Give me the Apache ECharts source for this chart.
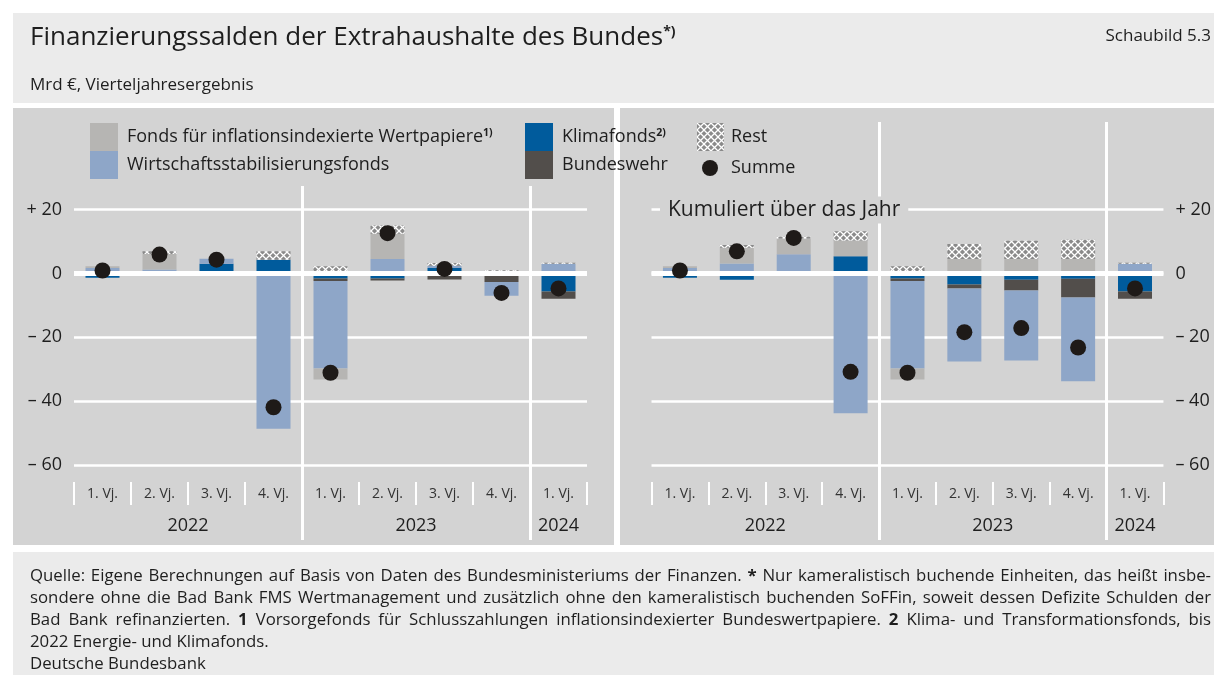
<!DOCTYPE html>
<html>
<head>
<meta charset="utf-8">
<script src="https://cdn.jsdelivr.net/npm/echarts@6/dist/echarts.min.js"></script>
<style>
  html, body { margin: 0; padding: 0; background: #fff; }
  #chart { width: 1214px; height: 675px; }
</style>
</head>
<body>
<div id="chart"></div>
<script>
// ---- Data (Mrd €) ----
const quarters = ['1. Vj.', '2. Vj.', '3. Vj.', '4. Vj.', '1. Vj.', '2. Vj.', '3. Vj.', '4. Vj.', '1. Vj.'];
const years = ['2022', '2023', '2024'];
const yearCenters = [2, 6, 8.5];   // middle of each year on the 0..9 quarter scale
const yearBreaks = [4, 8];         // boundaries between years
const quarterBounds = [0, 1, 2, 3, 4, 5, 6, 7, 8, 9];
const yTicks = [20, 0, -20, -40, -60];
const yTickLabels = ['+ 20', '0', '– 20', '– 40', '– 60'];

// Vierteljahresergebnis
const klimaQ      = [-1.4, -0.7, 3.0, 4.3, -1.6, -1.6, 1.7, 0.4, -5.7];
const bundeswehrQ = [0, 0, 0, 0, -0.8, -0.6, -1.9, -2.7, -2.2];
const wsfQ        = [1.7, 1.2, 1.6, -48.6, -27.4, 4.5, 0.7, -4.3, 3.0];
const fondsQ      = [0.55, 4.9, 0, 0, -3.4, 7.9, 0, 0.2, 0];
const restQ       = [0, 0.85, 0, 2.6, 2.2, 2.6, 0.85, 0.4, 0.3];
const summeQ      = [0.9, 5.9, 4.3, -41.9, -31.1, 12.6, 1.4, -6.1, -4.7];

// Kumuliert über das Jahr
const klimaK      = [-1.4, -2.0, 0.4, 5.4, -1.6, -3.5, -2.0, -1.7, -5.7];
const bundeswehrK = [0, 0, 0, 0, -0.8, -1.25, -3.35, -5.85, -2.2];
const wsfK        = [1.7, 3.1, 5.6, -43.75, -27.4, -22.8, -21.9, -26.2, 3.0];
const fondsK      = [0.55, 4.9, 4.9, 4.9, -3.4, 4.5, 4.5, 4.5, 0];
const restK       = [0, 0.85, 0.6, 2.9, 2.2, 4.7, 5.7, 6.0, 0.3];
const summeK      = [0.9, 6.9, 11.1, -30.8, -31.1, -18.4, -17.1, -23.2, -4.7];

// ---- Names & styling ----
const N_FONDS = 'Fonds für inflationsindexierte Wertpapiere';
const N_WSF = 'Wirtschaftsstabilisierungsfonds';
const N_KLIMA = 'Klimafonds';
const N_BW = 'Bundeswehr';
const N_REST = 'Rest';
const N_SUM = 'Summe';

const FONT = '"Open Sans", "Noto Sans", sans-serif';
const TXT = '#1e1e1e';
const PANEL = '#d3d3d3';
const LIGHT = '#ebebeb';
const C_FONDS = '#b6b5b3';
const C_WSF = '#8ea6c8';
const C_KLIMA = '#005b9c';
const C_BW = '#524e4b';
const C_DOT = '#1e1a18';

function hatchPattern() {
  const c = document.createElement('canvas');
  c.width = 7; c.height = 7;
  const g = c.getContext('2d');
  g.fillStyle = '#8a8a8a';
  g.fillRect(0, 0, 7, 7);
  g.strokeStyle = '#ffffff';
  g.lineWidth = 1.3;
  g.beginPath();
  g.moveTo(0, 0); g.lineTo(7, 7);
  g.moveTo(7, 0); g.lineTo(0, 7);
  g.stroke();
  return { image: c, repeat: 'repeat' };
}
const C_REST = hatchPattern();

// ---- Layout ----
const GRID_TOP = 209.5, GRID_H = 255.6, GRID_W = 513;
const GRID_LEFT = [74, 651.5];
const AXIS_BOTTOM = GRID_TOP + GRID_H;
const SEP_BOTTOM = 540;
const SEP_TOP = [186, 122];
const TICK_OFFSET = 17;

const chart = echarts.init(document.getElementById('chart'));

function yAxis(idx) {
  return {
    type: 'value', gridIndex: idx, min: -60, max: 20, interval: 20,
    position: idx === 0 ? 'left' : 'right',
    axisLine: { show: false }, axisTick: { show: false },
    splitLine: { lineStyle: { color: '#fff', width: 2.5 } },
    axisLabel: {
      margin: 12, fontSize: 18, color: TXT, fontFamily: FONT,
      formatter: v => yTickLabels[yTicks.indexOf(v)]
    }
  };
}

// quarter names under each bar
function quarterAxis(idx) {
  return {
    type: 'category', gridIndex: idx, data: quarters, position: 'bottom',
    offset: TICK_OFFSET,
    axisLine: { show: false },
    axisTick: { show: false },
    axisLabel: { margin: 5, fontSize: 14, color: '#333', fontFamily: FONT, interval: 0 },
    splitLine: { show: false }
  };
}

// short white dividers between the quarter names
function quarterTickAxis(idx) {
  return {
    type: 'value', gridIndex: idx, min: 0, max: quarters.length, position: 'bottom',
    offset: TICK_OFFSET,
    axisLine: { show: false },
    splitLine: { show: false },
    axisLabel: { show: false },
    axisTick: {
      show: true, customValues: quarterBounds, length: 23,
      lineStyle: { color: '#fff', width: 2 }
    }
  };
}

// year names and long year dividers
function yearAxis(idx) {
  return {
    type: 'value', gridIndex: idx, min: 0, max: quarters.length, position: 'bottom',
    offset: SEP_BOTTOM - AXIS_BOTTOM,
    axisLine: { show: false },
    splitLine: { show: false },
    axisTick: {
      show: true, inside: true, customValues: yearBreaks,
      length: SEP_BOTTOM - SEP_TOP[idx],
      lineStyle: { color: '#fff', width: 3 }
    },
    axisLabel: {
      show: true, inside: true, customValues: yearCenters, margin: 5,
      fontSize: 18, color: TXT, fontFamily: FONT,
      formatter: v => years[yearCenters.indexOf(v)]
    }
  };
}

function bars(idx, vals) {
  const spec = [
    [N_KLIMA, vals.klima, C_KLIMA],
    [N_BW, vals.bw, C_BW],
    [N_WSF, vals.wsf, C_WSF],
    [N_FONDS, vals.fonds, C_FONDS],
    [N_REST, vals.rest, C_REST]
  ];
  const list = spec.map(([name, data, color]) => ({
    type: 'bar', name, data,
    xAxisIndex: idx * 3, yAxisIndex: idx,
    stack: 'panel' + idx, barWidth: 34,
    itemStyle: { color },
    emphasis: { disabled: true },
    silent: true
  }));
  // zero line drawn above the bars
  list[list.length - 1].markLine = {
    silent: true, symbol: 'none', z: 5,
    label: { show: false },
    lineStyle: { color: '#fff', width: 5, type: 'solid' },
    data: [{ yAxis: 0 }]
  };
  list.push({
    type: 'scatter', name: N_SUM, data: vals.sum,
    xAxisIndex: idx * 3, yAxisIndex: idx,
    symbol: 'circle', symbolSize: 16, z: 10,
    itemStyle: { color: C_DOT, opacity: 1 },
    emphasis: { disabled: true }, silent: true
  });
  return list;
}

// ---- Footnote with justified lines ----
const footLines = [
  'Quelle: Eigene Berechnungen auf Basis von Daten des Bundesministeriums der Finanzen. §* Nur kameralistisch buchende Einheiten, das heißt insbe-',
  'sondere ohne die Bad Bank FMS Wertmanagement und zusätzlich ohne den kameralistisch buchenden SoFFin, soweit dessen Defizite Schulden der',
  'Bad Bank refinanzierten. §1 Vorsorgefonds für Schlusszahlungen inflationsindexierter Bundeswertpapiere. §2 Klima- und Transformationsfonds, bis',
  '2022 Energie- und Klimafonds.'
];
const FOOT_SIZE = 16.8;
const FOOT_X0 = 30, FOOT_X1 = 1211;
const footY = [576, 598, 620, 642];

function footElements() {
  const ctx = document.createElement('canvas').getContext('2d');
  const els = [];
  footLines.forEach((line, li) => {
    const words = line.split(' ').map(w => {
      const bold = w.startsWith('§');
      const t = bold ? w.slice(1) : w;
      ctx.font = (bold ? 'bold ' : '') + FOOT_SIZE + 'px "Open Sans"';
      return { t, bold, w: ctx.measureText(t).width };
    });
    ctx.font = FOOT_SIZE + 'px "Open Sans"';
    const space = ctx.measureText(' ').width;
    const total = words.reduce((s, w) => s + w.w, 0);
    const justify = li < footLines.length - 1;
    const gap = justify ? (FOOT_X1 - FOOT_X0 - total) / (words.length - 1) : space;
    let x = FOOT_X0;
    words.forEach(w => {
      els.push({
        type: 'text', x, y: footY[li], silent: true,
        style: {
          text: w.t, fontSize: FOOT_SIZE, fontFamily: 'Open Sans',
          fontWeight: w.bold ? 'bold' : 'normal', fill: TXT, verticalAlign: 'middle'
        }
      });
      x += w.w + gap;
    });
  });
  return els;
}

const legendText = {
  fontSize: 18, color: TXT, fontFamily: FONT,
  rich: { sup: { fontSize: 10.5, fontWeight: 'bold', verticalAlign: 'top', color: TXT, fontFamily: FONT } }
};
const legendFmt = n => n === N_FONDS ? n + '{sup|1)}' : (n === N_KLIMA ? n + '{sup|2)}' : n);
function legend(left, top, names, w, h, pad) {
  return {
    left, top, orient: 'vertical', itemGap: 0, padding: 0,
    itemWidth: w, itemHeight: h, selectedMode: false, icon: names[0] === N_SUM ? 'circle' : 'rect',
    data: names, formatter: legendFmt,
    textStyle: Object.assign({ padding: [0, 0, 0, pad] }, legendText)
  };
}

const option = {
  backgroundColor: '#fff',
  animation: false,
  grid: GRID_LEFT.map(l => ({ left: l, top: GRID_TOP, width: GRID_W, height: GRID_H, containLabel: false })),
  xAxis: [quarterAxis(0), yearAxis(0), quarterTickAxis(0), quarterAxis(1), yearAxis(1), quarterTickAxis(1)],
  yAxis: [yAxis(0), yAxis(1)],
  legend: [
    legend(90, 123, [N_FONDS, N_WSF], 28, 28, 4),
    legend(525, 123, [N_KLIMA, N_BW], 28, 28, 4),
    legend(697, 123, [N_REST], 27, 28, 2),
    legend(702, 159, [N_SUM], 16, 16, 8)
  ],
  series: [
    ...bars(0, { klima: klimaQ, bw: bundeswehrQ, wsf: wsfQ, fonds: fondsQ, rest: restQ, sum: summeQ }),
    ...bars(1, { klima: klimaK, bw: bundeswehrK, wsf: wsfK, fonds: fondsK, rest: restK, sum: summeK })
  ],
  graphic: [
    // panels
    { type: 'rect', z: -10, silent: true, shape: { x: 13, y: 13, width: 1201, height: 90 }, style: { fill: LIGHT } },
    { type: 'rect', z: -10, silent: true, shape: { x: 13, y: 108, width: 601, height: 437 }, style: { fill: PANEL } },
    { type: 'rect', z: -10, silent: true, shape: { x: 620, y: 108, width: 594, height: 437 }, style: { fill: PANEL } },
    { type: 'rect', z: -10, silent: true, shape: { x: 13, y: 552, width: 1201, height: 123 }, style: { fill: LIGHT } },
    // header
    {
      type: 'text', x: 30, y: 38, silent: true,
      style: {
        text: 'Finanzierungssalden der Extrahaushalte des Bundes{sup|*)}',
        fontSize: 26, fontFamily: FONT, fill: TXT, verticalAlign: 'middle',
        rich: { sup: { fontSize: 14, fontWeight: 'bold', verticalAlign: 'top', fill: TXT, fontFamily: FONT } }
      }
    },
    { type: 'text', x: 1211, y: 36, silent: true, style: { text: 'Schaubild 5.3', fontSize: 17, fontFamily: FONT, fill: TXT, align: 'right', verticalAlign: 'middle' } },
    { type: 'text', x: 30, y: 85, silent: true, style: { text: 'Mrd €, Vierteljahresergebnis', fontSize: 17, fontFamily: FONT, fill: TXT, verticalAlign: 'middle' } },
    // panel caption
    {
      type: 'text', x: 660, y: 210, z: 100, silent: true,
      style: {
        text: 'Kumuliert über das Jahr', fontSize: 21, fontFamily: FONT, fill: TXT,
        verticalAlign: 'middle', backgroundColor: PANEL, padding: [3, 8, 3, 8]
      }
    },
    // footnote
    ...footElements(),
    { type: 'text', x: 30, y: 664, silent: true, style: { text: 'Deutsche Bundesbank', fontSize: FOOT_SIZE, fontFamily: FONT, fill: TXT, verticalAlign: 'middle' } }
  ]
};

chart.setOption(option);
</script>
</body>
</html>
